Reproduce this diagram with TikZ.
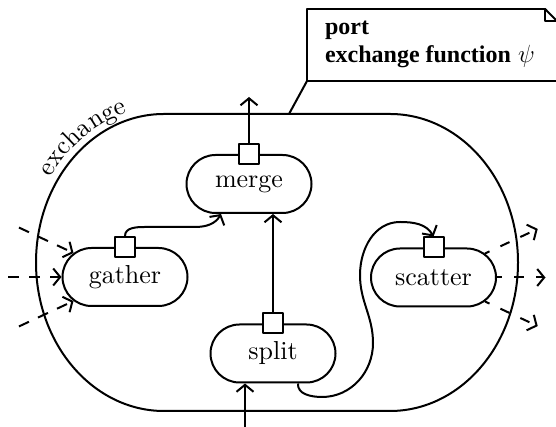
\documentclass[tikz,border=0pt]{standalone}
\usepackage{fontspec}
\newfontfamily\notefont{Liberation Serif}
\newfontfamily\labelfont{lmroman10-regular}[Extension=.otf]
\usetikzlibrary{shapes.misc,arrows.meta,decorations.text}

\tikzset{
  proc/.style={draw, rounded rectangle, minimum width=125pt, minimum height=58pt,
    inner sep=0pt, font=\labelfont\fontsize{26}{31}\selectfont},
  port/.style={draw, fill=white, rectangle, minimum size=20pt, inner sep=0pt},
  flow/.style={-{Straight Barb[length=7pt,width=17pt]}},
  inray/.style={flow, dash pattern=on 11pt off 10pt},
  outray/.style={flow, dash pattern=on 10pt off 12pt, dash phase=5pt},
  notetext/.style={anchor=base west, inner sep=0pt,
    font=\notefont\bfseries\fontsize{24}{29}\selectfont},
}

\begin{document}
\begin{tikzpicture}[x=1pt, y=1pt, line width=2pt, line join=round]
\useasboundingbox (0,0) rectangle (556,427);

% the exchange container
\draw (164,313) -- (390,313)
  arc[start angle=90, end angle=-90, x radius=128pt, y radius=148.5pt]
  -- (164,16)
  arc[start angle=270, end angle=90, x radius=128pt, y radius=148.5pt] -- cycle;
\path[decorate, decoration={text along path, text align=left,
    text={|\labelfont\fontsize{26}{31}\selectfont|exchange}}]
  ([shift={(147:135pt and 155.5pt)}]164,164.5)
  arc[start angle=147, end angle=95, x radius=135pt, y radius=155.5pt];

% processes
\node[proc] (m)  at (249,243)   {merge};
\node[proc] (g)  at (125,150)   {gather};
\node[proc] (sc) at (433.5,149.5) {scatter};
\node[proc] (s)  at (273,73.5)  {split};

% ports
\node[port] (mp)  at (m.north)  {};
\node[port] (gp)  at (g.north)  {};
\node[port] (scp) at (sc.north) {};
\node[port] (sp)  at (s.north)  {};

% free ends
\coordinate (mout) at (mp.north |- 0,330);
\coordinate (sin)  at ([xshift=-28pt]s.south |- 0,-2);
\coordinate (gi1) at ([shift={(155:117)}]g.center);
\coordinate (gi2) at ([shift={(180:117)}]g.center);
\coordinate (gi3) at ([shift={(205:117)}]g.center);
\coordinate (so1) at ([shift={(25:115)}]sc.center);
\coordinate (so2) at ([shift={(0:112)}]sc.center);
\coordinate (so3) at ([shift={(-25:115)}]sc.center);
\coordinate (hook) at (289,313);

% connectors
\draw[flow] (mp.north) -- (mout);
\draw[flow] (sin) -- ([xshift=-28pt]s.south);
\draw[flow] (sp.north) -- ([xshift=24pt]m.south);
\draw[flow] (gp.north) to[out=90,in=180] (145,200) -- (195,200)
  to[out=0,in=240] ([xshift=-28pt]m.south);
\draw[flow] ([xshift=25pt]s.south) to[out=-95,in=180] (322,30)
  to[out=0,in=-90] (373,84) to[out=90,in=-90] (360,152)
  to[out=90,in=180] (400,205) to[out=0,in=120] (scp.north);

\draw[inray] (gi1) -- (g.155);
\draw[inray] (gi2) -- (g.west);
\draw[inray] (gi3) -- (g.205);
\draw[outray] (sc.25) -- (so1);
\draw[outray] (sc.east) -- (so2);
\draw[outray] (sc.-25) -- (so3);

% note attached to the container
\draw (307,346) rectangle (558,418);
\draw[fill=white, draw=none] (545,419.5) -- (560,419.5) -- (560,405) -- cycle;
\draw (545,418) -- (557,406);
\draw (545,418) -- (545,406) -- (557,406);
\draw (hook) -- (307,346);
\node[notetext] (nport) at (324,392) {port};
\node[notetext] (nfun)  at (324,364) {exchange function\hspace{7pt}$\psi$};
\end{tikzpicture}
\end{document}
